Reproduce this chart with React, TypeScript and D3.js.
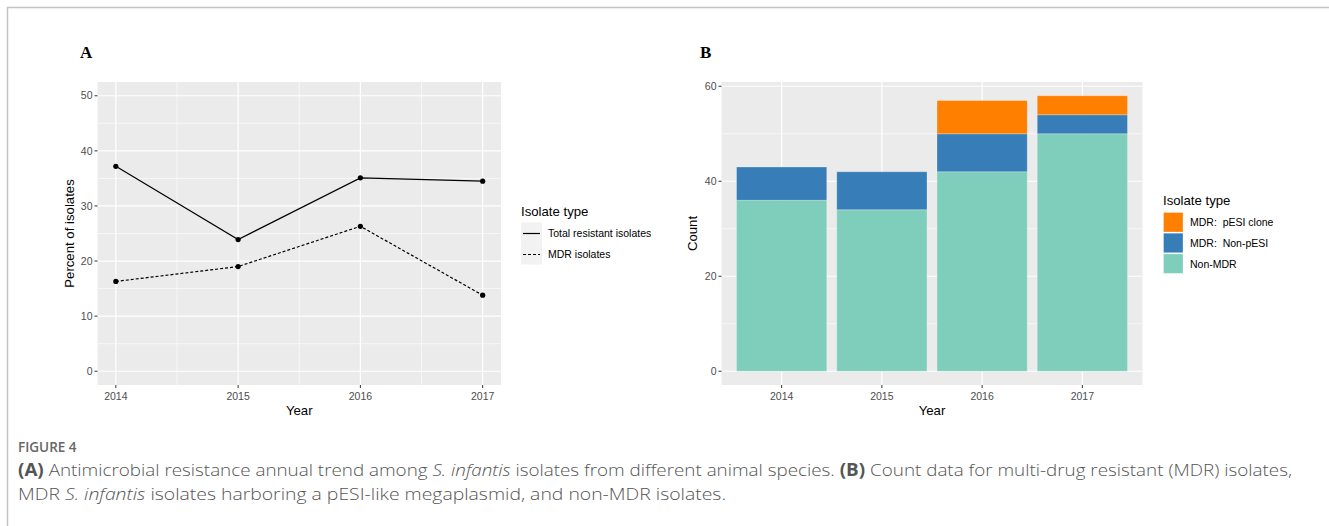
import React, { useEffect } from "react";
import * as d3 from "d3";

// panel A data (percent of isolates)
const years = [2014, 2015, 2016, 2017];
const totalResistant = [37.2, 23.9, 35.1, 34.5];
const mdrIsolates = [16.3, 19.0, 26.3, 13.8];

// panel B data (counts, stacked bottom to top)
const yearLabels = ["2014", "2015", "2016", "2017"];
const nonMdr = [36, 34, 42, 50];
const mdrNonPesi = [7, 8, 8, 4];
const mdrPesi = [0, 0, 7, 4];

const seriesB = [
  { key: "nonMdr", label: "Non-MDR", color: "#7fcdbb", values: nonMdr },
  { key: "nonPesi", label: "MDR:\u00a0 Non-pESI", color: "#377eb8", values: mdrNonPesi },
  { key: "pesi", label: "MDR:\u00a0 pESI clone", color: "#ff7f00", values: mdrPesi },
];

const ticksA = [0, 10, 20, 30, 40, 50];
const minorA = [5, 15, 25, 35, 45];
const ticksB = [0, 20, 40, 60];
const minorB = [10, 30, 50];

const font = "'Liberation Sans', Arial, sans-serif";
const tickCol = "#4d4d4d";

function PanelA() {
  const left = 97.5, right = 501, top = 82, bottom = 385;
  const x = d3.scaleLinear().domain([2014 - 0.15, 2017 + 0.15]).range([left, right]);
  const y = d3.scaleLinear().domain([-2.5, 52.5]).range([bottom, top]);
  const line = d3
    .line<number>()
    .x((d, i) => x(years[i]))
    .y((d) => y(d));

  return (
    <g>
      <text x={80} y={58} fontFamily="'Liberation Serif', 'Times New Roman', serif" fontWeight="bold" fontSize={17}>
        A
      </text>
      <rect x={left} y={top} width={right - left} height={bottom - top} fill="#ebebeb" />
      {minorA.map((t) => (
        <line key={"my" + t} x1={left} x2={right} y1={y(t)} y2={y(t)} stroke="#fff" strokeWidth={0.6} />
      ))}
      {[2014.5, 2015.5, 2016.5].map((t) => (
        <line key={"mx" + t} x1={x(t)} x2={x(t)} y1={top} y2={bottom} stroke="#fff" strokeWidth={0.6} />
      ))}
      {ticksA.map((t) => (
        <line key={"gy" + t} x1={left} x2={right} y1={y(t)} y2={y(t)} stroke="#fff" strokeWidth={1.2} />
      ))}
      {years.map((t) => (
        <line key={"gx" + t} x1={x(t)} x2={x(t)} y1={top} y2={bottom} stroke="#fff" strokeWidth={1.2} />
      ))}
      <path d={line(totalResistant) || ""} fill="none" stroke="#000" strokeWidth={1.2} />
      <path d={line(mdrIsolates) || ""} fill="none" stroke="#000" strokeWidth={1.2} strokeDasharray="3,2" />
      {totalResistant.map((v, i) => (
        <circle key={"p1" + i} cx={x(years[i])} cy={y(v)} r={2.6} fill="#000" />
      ))}
      {mdrIsolates.map((v, i) => (
        <circle key={"p2" + i} cx={x(years[i])} cy={y(v)} r={2.6} fill="#000" />
      ))}
      {ticksA.map((t) => (
        <g key={"ty" + t}>
          <line x1={left - 3} x2={left} y1={y(t)} y2={y(t)} stroke="#333" strokeWidth={1} />
          <text x={left - 5} y={y(t)} dy="0.35em" textAnchor="end" fontFamily={font} fontSize={10.5} fill={tickCol}>
            {t}
          </text>
        </g>
      ))}
      {years.map((t) => (
        <g key={"tx" + t}>
          <line x1={x(t)} x2={x(t)} y1={bottom} y2={bottom + 3} stroke="#333" strokeWidth={1} />
          <text x={x(t)} y={bottom + 15} textAnchor="middle" fontFamily={font} fontSize={10.5} fill={tickCol}>
            {t}
          </text>
        </g>
      ))}
      <text x={(left + right) / 2} y={415} textAnchor="middle" fontFamily={font} fontSize={13.2}>
        Year
      </text>
      <text
        transform={`translate(74,${(top + bottom) / 2}) rotate(-90)`}
        textAnchor="middle"
        fontFamily={font}
        fontSize={13.2}
      >
        Percent of isolates
      </text>
      {/* legend */}
      <text x={521} y={216} fontFamily={font} fontSize={13.2}>
        Isolate type
      </text>
      <rect x={521} y={222.5} width={21} height={42} fill="#f2f2f2" />
      <line x1={523} x2={540} y1={233.5} y2={233.5} stroke="#000" strokeWidth={1.2} />
      <line x1={523} x2={540} y1={254.5} y2={254.5} stroke="#000" strokeWidth={1.2} strokeDasharray="3,2" />
      <text x={548} y={233.5} dy="0.35em" fontFamily={font} fontSize={10.5}>
        Total resistant isolates
      </text>
      <text x={548} y={254.5} dy="0.35em" fontFamily={font} fontSize={10.5}>
        MDR isolates
      </text>
    </g>
  );
}

function PanelB() {
  const left = 721.5, right = 1142.5, top = 82, bottom = 385;
  // ggplot discrete expansion: 0.6 units each side, bars 0.9 wide
  const x = d3
    .scaleLinear()
    .domain([-0.6, yearLabels.length - 1 + 0.6])
    .range([left, right]);
  const bw = (x(1) - x(0)) * 0.9;
  const y = d3.scaleLinear().domain([-2.9, 60.9]).range([bottom, top]);
  const stack = d3
    .stack<number>()
    .keys(seriesB.map((s) => s.key))
    .value((i, key) => seriesB.find((s) => s.key === key)!.values[i]);
  const layers = stack(yearLabels.map((_, i) => i));

  return (
    <g>
      <text x={700} y={58} fontFamily="'Liberation Serif', 'Times New Roman', serif" fontWeight="bold" fontSize={17}>
        B
      </text>
      <rect x={left} y={top} width={right - left} height={bottom - top} fill="#ebebeb" />
      {minorB.map((t) => (
        <line key={"my" + t} x1={left} x2={right} y1={y(t)} y2={y(t)} stroke="#fff" strokeWidth={0.6} />
      ))}
      {ticksB.map((t) => (
        <line key={"gy" + t} x1={left} x2={right} y1={y(t)} y2={y(t)} stroke="#fff" strokeWidth={1.2} />
      ))}
      {yearLabels.map((t, i) => (
        <line key={"gx" + t} x1={x(i)} x2={x(i)} y1={top} y2={bottom} stroke="#fff" strokeWidth={1.2} />
      ))}
      {layers.map((layer, li) =>
        layer.map((d, i) =>
          d[1] - d[0] > 0 ? (
            <rect
              key={li + "-" + i}
              x={x(i) - bw / 2}
              width={bw}
              y={y(d[1])}
              height={y(d[0]) - y(d[1])}
              fill={seriesB[li].color}
              stroke="#ffffff"
              strokeOpacity={0.25}
              strokeWidth={1}
            />
          ) : null
        )
      )}
      {ticksB.map((t) => (
        <g key={"ty" + t}>
          <line x1={left - 3} x2={left} y1={y(t)} y2={y(t)} stroke="#333" strokeWidth={1} />
          <text x={left - 5} y={y(t)} dy="0.35em" textAnchor="end" fontFamily={font} fontSize={10.5} fill={tickCol}>
            {t}
          </text>
        </g>
      ))}
      {yearLabels.map((t, i) => (
        <g key={"tx" + t}>
          <line x1={x(i)} x2={x(i)} y1={bottom} y2={bottom + 3} stroke="#333" strokeWidth={1} />
          <text x={x(i)} y={bottom + 15} textAnchor="middle" fontFamily={font} fontSize={10.5} fill={tickCol}>
            {t}
          </text>
        </g>
      ))}
      <text x={(left + right) / 2} y={415} textAnchor="middle" fontFamily={font} fontSize={13.2}>
        Year
      </text>
      <text
        transform={`translate(697,${(top + bottom) / 2}) rotate(-90)`}
        textAnchor="middle"
        fontFamily={font}
        fontSize={13.2}
      >
        Count
      </text>
      {/* legend, reversed order like ggplot stacks */}
      <text x={1163} y={205} fontFamily={font} fontSize={13.2}>
        Isolate type
      </text>
      {[...seriesB].reverse().map((s, i) => (
        <g key={s.key}>
          <rect x={1163.5} y={212.5 + i * 20.7} width={19.5} height={19.5} fill={s.color} stroke="#fff" strokeOpacity={0.3} />
          <text x={1190} y={222.5 + i * 20.7} dy="0.35em" fontFamily={font} fontSize={10.5}>
            {s.label}
          </text>
        </g>
      ))}
    </g>
  );
}

export default function App() {
  useEffect(() => {
    document.body.style.margin = "0";
  }, []);
  const capFont = "'Open Sans', 'Noto Sans', sans-serif";
  const capCol = "#555";
  return (
    <svg width={1329} height={526} style={{ display: "block", background: "#fff" }}>
      <path d="M7.5,526 L7.5,7.5 L1329,7.5" fill="none" stroke="#c4c4c4" strokeWidth={1.5} />
      <PanelA />
      <PanelB />
      <text x={18} y={452} fontFamily={capFont} fontSize={13.5} fontWeight={600} fill="#666">
        FIGURE 4
      </text>
      <text
        x={18}
        y={476}
        fontFamily={capFont}
        fontSize={17}
        fill={capCol}
        fontWeight={300}
        textLength={1274}
        lengthAdjust="spacingAndGlyphs"
      >
        <tspan fontWeight={700}>(A)</tspan> Antimicrobial resistance annual trend among <tspan fontStyle="italic">S. infantis</tspan> isolates from
        different animal species. <tspan fontWeight={700}>(B)</tspan> Count data for multi-drug resistant (MDR) isolates,
      </text>
      <text
        x={18}
        y={500}
        fontFamily={capFont}
        fontSize={17}
        fill={capCol}
        fontWeight={300}
        textLength={708}
        lengthAdjust="spacingAndGlyphs"
      >
        MDR <tspan fontStyle="italic">S. infantis</tspan> isolates harboring a pESI-like megaplasmid, and non-MDR isolates.
      </text>
    </svg>
  );
}
